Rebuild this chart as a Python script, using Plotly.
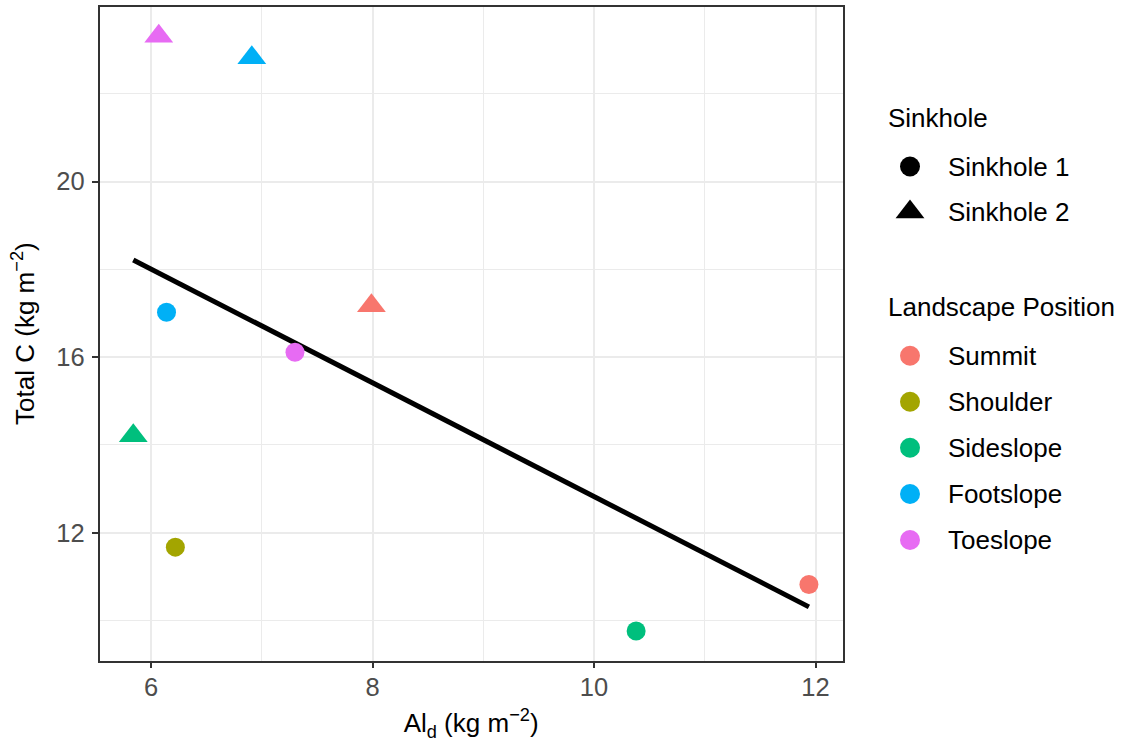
import numpy as np
import plotly.graph_objects as go

# ---------------- data ----------------
positions = ["Summit", "Shoulder", "Sideslope", "Footslope", "Toeslope"]
pos_colors = ["#F8766D", "#A3A500", "#00BF7D", "#00B0F6", "#E76BF3"]
sinkholes = ["Sinkhole 1", "Sinkhole 2"]
sink_symbols = ["circle", "triangle-up"]

# Sinkhole 1 (circles)
s1_pos = ["Summit", "Shoulder", "Sideslope", "Footslope", "Toeslope"]
s1_ald = [11.94, 6.22, 10.38, 6.14, 7.30]
s1_totc = [10.82, 11.67, 9.76, 17.02, 16.11]

# Sinkhole 2 (triangles)
s2_pos = ["Summit", "Sideslope", "Footslope", "Toeslope"]
s2_ald = [7.99, 5.84, 6.91, 6.07]
s2_totc = [17.17, 14.21, 22.82, 23.31]

x_ticks = [6, 8, 10, 12]
y_ticks = [12, 16, 20]

# ---------------- layout constants ----------------
W, H = 1127, 744
FONT = "Liberation Sans, Arial, Helvetica, sans-serif"
TICK_SIZE = 25.5
TEXT_SIZE = 26
CIRCLE_SIZE = 19
TRI_SIZE = 25

px0, px1 = 99.5, 842.7   # plot area in pixels
py0, py1 = 6.5, 660.7

color_of = dict(zip(positions, pos_colors))

all_x = np.array(s1_ald + s2_ald)
all_y = np.array(s1_totc + s2_totc)

def expand(v, f=0.05):
    lo, hi = float(np.min(v)), float(np.max(v))
    d = (hi - lo) * f
    return [lo - d, hi + d]

fig = go.Figure()

# regression line (lm fit)
slope, intercept = np.polyfit(all_x, all_y, 1)
lx = np.array([all_x.min(), all_x.max()])
fig.add_trace(go.Scatter(
    x=lx, y=intercept + slope * lx, mode="lines",
    line=dict(color="black", width=5), showlegend=False, hoverinfo="skip"))

for name, sym, xs, ys, ps in [
    (sinkholes[0], sink_symbols[0], s1_ald, s1_totc, s1_pos),
    (sinkholes[1], sink_symbols[1], s2_ald, s2_totc, s2_pos),
]:
    fig.add_trace(go.Scatter(
        x=xs, y=ys, mode="markers", name=name,
        marker=dict(symbol=sym, opacity=1,
                    size=CIRCLE_SIZE if sym == "circle" else TRI_SIZE,
                    color=[color_of[p] for p in ps], line=dict(width=0)),
        text=ps, showlegend=False))

# ---------------- manual legend (on a pixel-scaled helper axis) ----------------
lg_x0 = 856.0
sym_x = 910
txt_x = 946
title_x = 886
sink_title_y = 118
sink_item_y = [166.5, 212]
pos_title_y = 307
pos_item_y = [355.7, 401.7, 447.7, 494, 540]

fig.add_trace(go.Scatter(
    x=[sym_x] * len(sinkholes), y=sink_item_y, mode="markers",
    marker=dict(symbol=sink_symbols, size=[CIRCLE_SIZE + 1, TRI_SIZE], opacity=1,
                color="#000000", line=dict(width=0)),
    xaxis="x2", yaxis="y2", showlegend=False, hoverinfo="skip"))
fig.add_trace(go.Scatter(
    x=[sym_x] * len(positions), y=pos_item_y, mode="markers",
    marker=dict(symbol="circle", size=CIRCLE_SIZE + 1, color=pos_colors, opacity=1,
                line=dict(width=0)),
    xaxis="x2", yaxis="y2", showlegend=False, hoverinfo="skip"))

annotations = []
def add_text(txt, x, y):
    annotations.append(dict(text=txt, x=x, y=y, xref="x2", yref="y2",
                            xanchor="left", yanchor="middle", showarrow=False,
                            font=dict(family=FONT, size=TEXT_SIZE, color="black")))

add_text("Sinkhole", title_x, sink_title_y)
for s, y in zip(sinkholes, sink_item_y):
    add_text(s, txt_x, y)
add_text("Landscape Position", title_x, pos_title_y)
for p, y in zip(positions, pos_item_y):
    add_text(p, txt_x, y)

axis_common = dict(
    showgrid=True, gridcolor="#EBEBEB", gridwidth=1.5,
    showline=True, linecolor="#333333", linewidth=1.5, mirror=True,
    ticks="outside", ticklen=6, tickwidth=1.5, tickcolor="#333333",
    tickfont=dict(family=FONT, size=TICK_SIZE, color="#4D4D4D"),
    zeroline=False, automargin=False,
)

fig.update_layout(
    width=W, height=H,
    margin=dict(l=0, r=0, t=0, b=0),
    paper_bgcolor="white", plot_bgcolor="white",
    showlegend=False,
    font=dict(family=FONT, size=TEXT_SIZE, color="black"),
    xaxis=dict(
        domain=[px0 / W, px1 / W], range=expand(all_x),
        tickvals=x_ticks, ticktext=[str(v) for v in x_ticks],
        minor=dict(tickvals=[7, 9, 11], showgrid=True, gridcolor="#EBEBEB",
                   gridwidth=0.8, ticks=""),
        ticklabelstandoff=-3,
        title=dict(text="Al<sub>d</sub> (kg m<sup>−2</sup>)", standoff=14,
                   font=dict(family=FONT, size=TEXT_SIZE, color="black")),
        anchor="y",
        **axis_common),
    yaxis=dict(
        domain=[1 - py1 / H, 1 - py0 / H], range=expand(all_y),
        tickvals=y_ticks, ticktext=[str(v) for v in y_ticks],
        minor=dict(tickvals=[10, 14, 18, 22], showgrid=True, gridcolor="#EBEBEB",
                   gridwidth=0.8, ticks=""),
        ticklabelstandoff=2,
        title=dict(text="Total C (kg m<sup>−2</sup>)", standoff=14,
                   font=dict(family=FONT, size=TEXT_SIZE, color="black")),
        anchor="x",
        **axis_common),
    xaxis2=dict(domain=[lg_x0 / W, 1], range=[lg_x0, W], visible=False,
                fixedrange=True, anchor="y2"),
    yaxis2=dict(domain=[0, 1], range=[H, 0], visible=False,
                fixedrange=True, anchor="x2"),
    annotations=annotations,
)

fig.write_html("out.html", config={"displayModeBar": False},
               post_script="document.body.style.margin='0';document.body.style.padding='0';")
